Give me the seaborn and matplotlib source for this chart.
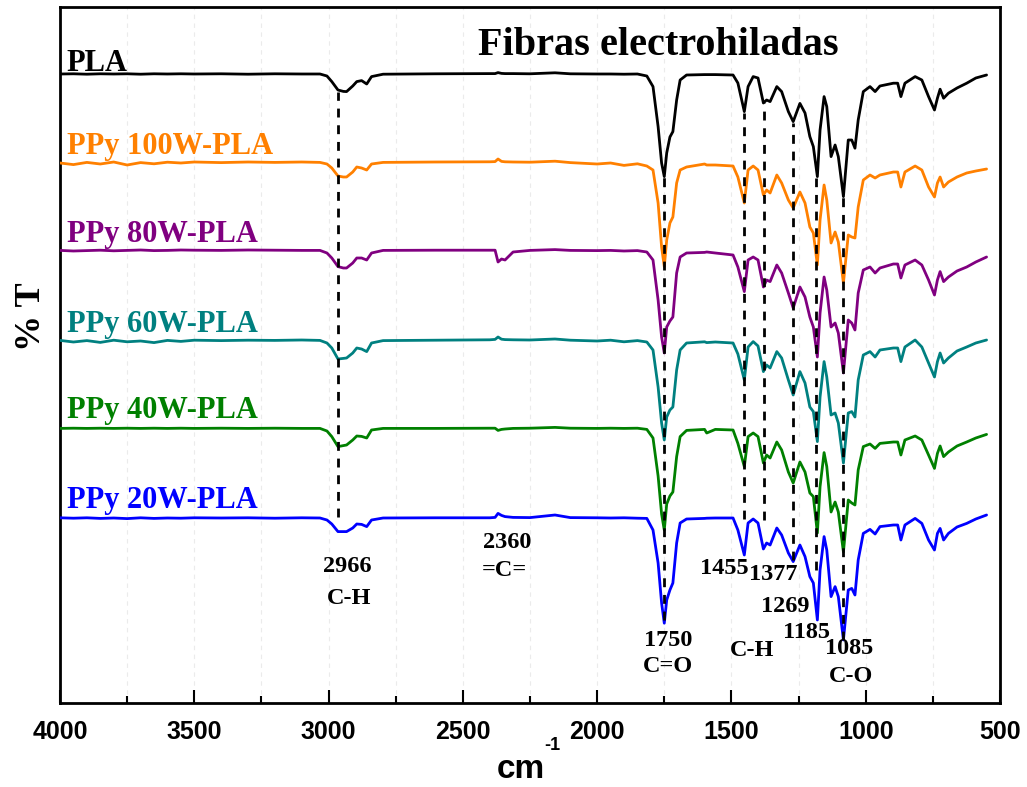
import matplotlib
matplotlib.use("Agg")
import matplotlib.pyplot as plt
from matplotlib.ticker import MultipleLocator
import pandas as pd
import seaborn as sns

# Wavenumber grid (cm-1), shared by all spectra
WAVENUMBER = [
    4000, 3950, 3900, 3850, 3800, 3750, 3700, 3650, 3600, 3550, 3500, 3400, 3300, 3200, 3100,
    3032, 3006, 2988, 2965, 2945, 2933, 2910, 2895, 2877, 2858, 2840, 2797,
    2600, 2400, 2380, 2369, 2356, 2343, 2313, 2250, 2157, 2100, 2000, 1950, 1900, 1850, 1815,
    1792, 1773, 1760, 1750, 1741, 1729, 1718, 1704, 1691, 1667, 1600, 1592, 1560,
    1494, 1476, 1452, 1438, 1419, 1401, 1381, 1369, 1356, 1331, 1313,
    1288, 1270, 1245, 1226, 1208, 1195, 1180, 1170, 1155, 1145, 1129, 1114, 1102, 1083, 1065, 1052, 1040,
    1028, 1009, 984, 965, 947, 897, 881, 869, 854, 816, 791, 766, 744, 733, 723, 710, 692, 660, 624, 590, 550,
]

# Transmittance (%) of each sample
T_PLA = [
    99.5, 99.6, 99.4, 99.6, 99.5, 99.6, 99.4, 99.6, 99.5, 99.6, 99.5, 99.6, 99.4, 99.6, 99.5,
    99.5, 98.5, 95.7, 91.5, 90.8, 90.7, 93.5, 95.7, 96.2, 94.5, 98.2, 99.4,
    99.6, 99.7, 99.7, 100.2, 99.8, 99.7, 99.7, 99.6, 100.1, 99.6, 99.5, 99.5, 99.4, 99.5, 98.5,
    93.2, 73.2, 55.0, 48.2, 60.0, 68.0, 70.7, 86.5, 96.5, 99.0, 99.2, 99.2, 99.2,
    99.0, 95.0, 80.7, 93.2, 98.2, 97.5, 85.0, 86.5, 85.7, 93.2, 90.7,
    80.7, 75.7, 84.8, 80.0, 68.2, 63.2, 48.2, 71.5, 88.2, 83.2, 58.2, 64.0, 58.2, 38.2, 66.5, 66.5, 62.4,
    76.5, 90.7, 93.2, 90.7, 93.5, 94.9, 94.9, 88.2, 94.9, 98.2, 96.5, 88.2, 81.5, 87.4, 91.9, 87.4, 89.9, 92.5, 94.9, 97.5, 99.0,
]
T_100W = [
    99.0, 98.2, 99.3, 98.5, 99.5, 98.0, 99.2, 98.6, 99.4, 99.0, 99.5, 99.2, 99.5, 99.3, 99.5,
    99.3, 98.5, 96.5, 92.5, 92.0, 92.0, 94.5, 97.0, 96.5, 95.5, 98.5, 99.3,
    99.5, 99.6, 99.7, 101.0, 99.8, 99.6, 99.5, 99.4, 99.9, 99.2, 98.5, 99.0, 97.8, 98.6, 97.5,
    95.5, 79.0, 57.0, 47.2, 60.5, 69.0, 72.0, 89.0, 95.5, 97.0, 98.5, 98.0, 98.0,
    97.5, 92.0, 79.0, 95.5, 97.5, 95.5, 83.0, 85.5, 84.0, 93.0, 89.0,
    80.5, 76.5, 84.5, 79.0, 67.0, 64.0, 48.0, 70.5, 88.0, 80.5, 59.0, 64.5, 59.5, 39.0, 63.0, 62.0, 61.5,
    77.0, 90.5, 93.0, 91.5, 93.0, 94.5, 94.5, 87.0, 94.5, 97.5, 95.5, 87.0, 82.0, 89.0, 92.0, 87.0, 89.5, 92.0, 94.0, 95.0, 96.0,
]
T_80W = [
    99.3, 99.0, 99.2, 99.4, 99.1, 99.3, 99.5, 99.2, 99.3, 99.5, 99.4, 99.3, 99.5, 99.4, 99.3,
    99.3, 98.0, 95.5, 91.2, 90.5, 90.5, 93.0, 95.5, 95.5, 94.5, 98.0, 99.3,
    99.4, 99.4, 99.4, 93.5, 95.0, 94.5, 98.5, 99.3, 99.7, 99.3, 99.2, 99.3, 99.0, 99.2, 98.5,
    94.5, 74.5, 56.0, 48.0, 61.0, 64.0, 66.0, 88.0, 96.0, 98.0, 98.3, 98.5, 98.0,
    97.0, 91.0, 78.7, 94.5, 96.0, 94.5, 81.0, 84.5, 83.7, 92.0, 88.0,
    78.0, 70.5, 81.0, 76.0, 66.0, 61.0, 46.0, 68.0, 86.0, 79.5, 61.0, 63.0, 58.0, 38.0, 64.5, 63.0, 59.5,
    78.0, 89.5, 91.0, 88.0, 90.5, 92.5, 92.5, 85.5, 92.0, 94.5, 92.0, 84.5, 77.0, 84.5, 88.7, 83.7, 86.0, 89.0, 91.0, 93.5, 96.0,
]
T_60W = [
    99.3, 98.5, 99.2, 98.3, 99.4, 98.6, 99.0, 98.2, 99.3, 98.8, 99.4, 99.2, 99.4, 99.3, 99.5,
    99.3, 98.0, 95.5, 90.0, 90.3, 90.5, 93.0, 95.5, 95.0, 93.7, 98.0, 99.2,
    99.4, 99.6, 99.8, 101.0, 99.9, 99.7, 99.6, 99.5, 100.0, 99.4, 99.0, 99.4, 98.6, 99.2, 98.5,
    94.5, 76.0, 58.0, 49.5, 61.0, 64.5, 66.0, 84.5, 94.5, 98.0, 98.6, 98.2, 98.5,
    98.0, 92.5, 79.5, 96.0, 98.7, 96.5, 83.7, 87.0, 85.5, 93.7, 90.5,
    79.5, 72.0, 83.7, 78.0, 66.0, 63.7, 48.7, 71.0, 88.7, 81.0, 62.0, 63.0, 58.0, 38.0, 63.0, 63.7, 61.0,
    79.5, 92.0, 93.7, 91.0, 94.5, 95.5, 95.5, 88.7, 96.0, 99.5, 96.0, 88.0, 81.0, 88.7, 93.0, 88.0, 90.5, 94.0, 96.0, 98.0, 99.5,
]
T_40W = [
    98.8, 98.9, 98.8, 98.9, 98.8, 98.9, 98.8, 98.9, 98.8, 98.9, 98.8, 98.9, 98.8, 98.9, 98.8,
    98.8, 97.5, 94.7, 89.7, 90.2, 90.5, 93.0, 95.0, 94.8, 94.0, 98.0, 98.8,
    98.8, 98.9, 98.9, 97.8, 98.3, 98.5, 98.8, 98.9, 99.3, 98.9, 98.8, 98.9, 98.8, 98.9, 98.3,
    94.0, 75.0, 56.0, 48.0, 61.0, 65.0, 67.0, 84.7, 94.7, 97.8, 98.3, 96.5, 98.3,
    98.0, 91.3, 79.7, 94.7, 96.5, 94.7, 81.5, 85.5, 84.0, 92.0, 88.0,
    77.0, 71.5, 82.0, 77.0, 66.5, 64.7, 46.5, 69.7, 86.7, 79.7, 57.0, 62.0, 57.0, 37.0, 63.0, 61.5, 60.5,
    78.0, 89.7, 91.0, 88.8, 91.3, 92.0, 92.0, 85.5, 93.0, 95.0, 93.0, 85.5, 78.8, 86.3, 90.0, 84.7, 87.0, 90.0, 92.0, 94.0, 95.8,
]
T_20W = [
    99.6, 99.4, 99.6, 99.3, 99.5, 99.2, 99.6, 99.3, 99.5, 99.4, 99.6, 99.5, 99.6, 99.4, 99.6,
    99.5, 98.5, 96.5, 92.7, 92.7, 92.7, 94.5, 96.5, 96.3, 95.2, 98.5, 99.5,
    99.6, 99.6, 99.8, 101.8, 100.8, 100.2, 99.8, 99.7, 101.0, 99.7, 99.6, 99.5, 99.6, 99.4, 99.3,
    93.5, 77.0, 57.0, 46.9, 58.5, 63.5, 67.0, 87.0, 97.0, 99.0, 99.3, 99.4, 99.5,
    99.5, 93.5, 81.0, 97.0, 99.0, 97.0, 84.0, 87.0, 86.0, 94.5, 91.0,
    82.0, 77.7, 86.0, 80.2, 70.2, 67.0, 48.5, 73.5, 90.2, 83.5, 60.2, 65.2, 60.2, 38.5, 63.5, 64.3, 61.0,
    78.5, 91.8, 93.8, 91.5, 95.2, 96.0, 96.0, 88.5, 96.0, 99.3, 96.8, 88.5, 83.5, 91.8, 94.3, 88.5, 91.8, 95.0, 96.8, 99.0, 101.0,
]

SAMPLES = ["PLA", "PPy 100W-PLA", "PPy 80W-PLA", "PPy 60W-PLA", "PPy 40W-PLA", "PPy 20W-PLA"]
SPECTRA = [T_PLA, T_100W, T_80W, T_60W, T_40W, T_20W]
COLORS = ["#000000", "#FF8000", "#800080", "#008080", "#008000", "#0000FF"]

# Marked absorption bands (cm-1)
PEAKS = [2966, 1750, 1455, 1377, 1269, 1185, 1085]

# vertical stacking of the spectra
STACK = [222, 178, 134, 89, 45.5, 0]

rows = []
for name, values, shift in zip(SAMPLES, SPECTRA, STACK):
    for wn, t in zip(WAVENUMBER, values):
        rows.append({"wn": wn, "T": t + shift, "sample": name})
df = pd.DataFrame(rows)

sns.set_theme(style="white")
plt.rcParams["font.family"] = ["Liberation Sans", "DejaVu Sans"]
plt.rcParams["font.weight"] = "bold"
plt.rcParams["text.color"] = "black"
plt.rcParams["axes.labelcolor"] = "black"
plt.rcParams["xtick.color"] = "black"
plt.rcParams["ytick.color"] = "black"
plt.rcParams["axes.edgecolor"] = "black"

SERIF = ["Liberation Serif", "DejaVu Serif"]

fig = plt.figure(figsize=(10.27, 7.87), dpi=100)
ax = fig.add_axes([60 / 1027, 84 / 787, 940 / 1027, 696 / 787])

sns.lineplot(data=df, x="wn", y="T", hue="sample", palette=dict(zip(SAMPLES, COLORS)),
             sort=False, estimator=None, legend=False, linewidth=2.0, ax=ax, zorder=3)

ax.set_xlim(4000, 500)
ax.set_ylim(7, 355)

# band markers
line_spans = {2966: (100, 312.7), 1750: (48.5, 270), 1455: (99, 302), 1377: (98.5, 307),
              1269: (78.5, 297), 1185: (73.5, 269.5), 1085: (38.5, 260)}
for p in PEAKS:
    y0, y1 = line_spans[p]
    ax.plot([p, p], [y0, y1], color="black", lw=2.0, ls=(0, (3.2, 2.8)), zorder=4)

# sample names above each trace
name_lift = [0.8, 3.5, 3.7, 3.6, 4.2, 4.3]
for name, c, shift, dy in zip(SAMPLES, COLORS, STACK, name_lift):
    ax.text(3975, 100 + shift + dy, name, color=c, fontsize=22, fontweight="bold",
            family=SERIF, ha="left", va="baseline", zorder=5)

# band annotations
notes = [("2966", 2931, 75), ("C-H", 2924, 59.5), ("2360", 2336, 87), ("=C=", 2347, 73),
         ("1750", 1734, 38.5), ("C=O", 1736, 25.5), ("1455", 1528, 74), ("1377", 1345, 71.5),
         ("C-H", 1423, 33.5), ("1269", 1299, 55.5), ("1185", 1219, 42.5), ("1085", 1062, 34),
         ("C-O", 1055, 20.5)]
for txt, x, y in notes:
    ax.text(x, y, txt, fontsize=17.5, fontweight="bold", family=SERIF, ha="center",
            va="center", color="black", zorder=5)

ax.text(1773, 331, "Fibras electrohiladas", fontsize=29, fontweight="bold", family=SERIF,
        ha="center", va="baseline", color="black")

# axes styling
ax.xaxis.set_major_locator(MultipleLocator(500))
ax.xaxis.set_minor_locator(MultipleLocator(250))
ax.set_yticks([])
ax.grid(True, which="both", axis="x", color="#ebebeb", lw=0.8, ls=(0, (4, 4)), zorder=0)
ax.tick_params(axis="x", which="major", direction="in", length=9.5, width=1.5,
               labelsize=18, pad=12, top=False, bottom=True, color="black", labelcolor="black")
ax.tick_params(axis="x", which="minor", direction="in", length=5, width=1.5,
               top=False, bottom=True, color="black")
for lbl in ax.get_xticklabels():
    lbl.set_fontweight("bold")
for s in ax.spines.values():
    s.set_visible(True)
    s.set_linewidth(2.0)
    s.set_color("black")
ax.set_xlabel("")
ax.set_ylabel("")

# axis titles
fig.text(521 / 1027, 9 / 787, "cm", fontsize=24, fontweight="bold",
         ha="center", va="baseline", color="black")
fig.text(544 / 1027, 1 - 750 / 787, "-1", fontsize=13, fontweight="bold",
         ha="left", va="baseline", color="black")
fig.text(31 / 1027, 1 - 317 / 787, "% T", fontsize=26, fontweight="bold", family=SERIF,
         rotation=90, ha="center", va="center", color="black")

fig.savefig("out.png", dpi=100)
